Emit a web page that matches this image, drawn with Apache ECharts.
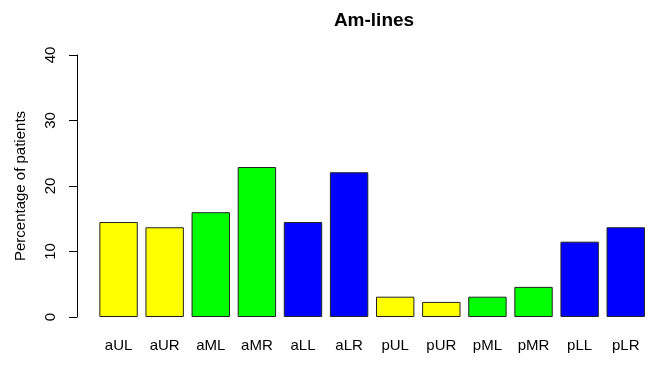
<!DOCTYPE html>
<html>
<head>
<meta charset="utf-8">
<script src="https://cdn.jsdelivr.net/npm/echarts@6/dist/echarts.min.js"></script>
<style>html,body{margin:0;padding:0;background:#fff;}#chart{width:658px;height:366px;}</style>
</head>
<body>
<div id="chart"></div>
<script>
const categories = ['aUL','aUR','aML','aMR','aLL','aLR','pUL','pUR','pML','pMR','pLL','pLR'];
const values = [14.5, 13.7, 16.0, 22.9, 14.5, 22.1, 3.1, 2.3, 3.1, 4.6, 11.5, 13.7];
const barColors = ['#FFFF00','#FFFF00','#00FF00','#00FF00','#0000FF','#0000FF','#FFFF00','#FFFF00','#00FF00','#00FF00','#0000FF','#0000FF'];
const yTicks = [0, 10, 20, 30, 40];
const titleText = 'Am-lines';
const yName = 'Percentage of patients';

const font = 'Liberation Sans, Arial, sans-serif';
const chart = echarts.init(document.getElementById('chart'));
chart.setOption({
  animation: false,
  backgroundColor: '#ffffff',
  title: {
    text: titleText,
    left: 369, top: 6, textAlign: 'center',
    textStyle: { fontFamily: font, fontSize: 19, fontWeight: 'bold', color: '#000' }
  },
  grid: { left: 95.5, right: 9.2, top: 55, bottom: 49, containLabel: false },
  xAxis: {
    type: 'category',
    data: categories,
    axisLine: { show: false },
    axisTick: { show: false },
    axisLabel: { margin: 21, fontFamily: font, fontSize: 15, color: '#000' }
  },
  yAxis: {
    type: 'value',
    min: yTicks[0], max: yTicks[yTicks.length - 1], interval: 10,
    offset: 18.5,
    splitLine: { show: false },
    axisLine: { show: true, lineStyle: { color: '#000', width: 1 } },
    axisTick: { show: true, length: 8, lineStyle: { color: '#000' } },
    axisLabel: { rotate: 90, margin: 19, fontFamily: font, fontSize: 15, color: '#000' },
    name: yName,
    nameLocation: 'middle',
    nameGap: 49,
    nameTextStyle: { fontFamily: font, fontSize: 15, color: '#000' }
  },
  series: [{
    type: 'bar',
    data: values.map((v, i) => ({ value: v, itemStyle: { color: barColors[i] } })),
    barWidth: 38.4,
    itemStyle: { borderColor: '#222', borderWidth: 1 }
  }]
});
</script>
</body>
</html>
